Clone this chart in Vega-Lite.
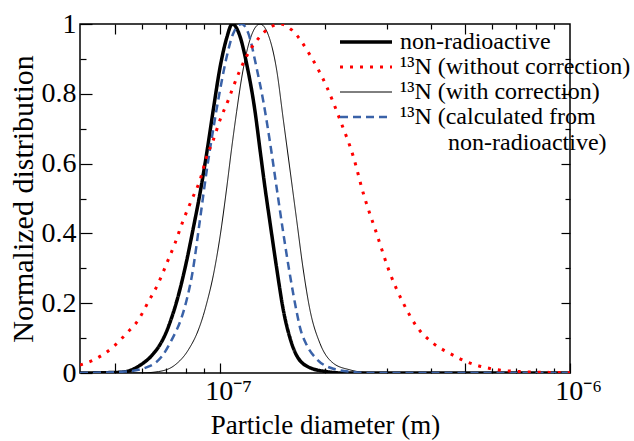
{
  "$schema": "https://vega.github.io/schema/vega-lite/v6.json",
  "autosize": {"type": "none"},
  "width": 490,
  "height": 349,
  "padding": {"left": 80, "top": 24, "right": 64, "bottom": 68},
  "background": "white",
  "config": {
    "font": "Liberation Serif, Times New Roman, Times, serif",
    "view": {"stroke": "black", "strokeWidth": 1.5},
    "axis": {"labelFont": "Liberation Serif, Times New Roman, Times, serif", "titleFont": "Liberation Serif, Times New Roman, Times, serif", "labelColor": "black", "titleColor": "black", "titleFontWeight": "normal", "grid": false, "domain": false, "tickColor": "black", "tickWidth": 1.2, "tickOpacity": 1},
    "legend": {"labelFont": "Liberation Serif, Times New Roman, Times, serif", "labelColor": "black"}
  },
  "data": {"values": [
    {"s": "non-radioactive", "d": 3.981e-8, "v": 0},
    {"s": "non-radioactive", "d": 5.179e-8, "v": 0.002},
    {"s": "non-radioactive", "d": 5.593e-8, "v": 0.009},
    {"s": "non-radioactive", "d": 5.907e-8, "v": 0.022},
    {"s": "non-radioactive", "d": 6.382e-8, "v": 0.05},
    {"s": "non-radioactive", "d": 6.815e-8, "v": 0.09},
    {"s": "non-radioactive", "d": 7.043e-8, "v": 0.12},
    {"s": "non-radioactive", "d": 7.197e-8, "v": 0.145},
    {"s": "non-radioactive", "d": 7.522e-8, "v": 0.205},
    {"s": "non-radioactive", "d": 7.686e-8, "v": 0.24},
    {"s": "non-radioactive", "d": 7.943e-8, "v": 0.30},
    {"s": "non-radioactive", "d": 8.388e-8, "v": 0.415},
    {"s": "non-radioactive", "d": 8.768e-8, "v": 0.515},
    {"s": "non-radioactive", "d": 9.163e-8, "v": 0.63},
    {"s": "non-radioactive", "d": 9.570e-8, "v": 0.755},
    {"s": "non-radioactive", "d": 1.0e-7, "v": 0.875},
    {"s": "non-radioactive", "d": 1.045e-7, "v": 0.96},
    {"s": "non-radioactive", "d": 1.084e-7, "v": 1.0},
    {"s": "non-radioactive", "d": 1.141e-7, "v": 0.964},
    {"s": "non-radioactive", "d": 1.192e-7, "v": 0.885},
    {"s": "non-radioactive", "d": 1.259e-7, "v": 0.75},
    {"s": "non-radioactive", "d": 1.301e-7, "v": 0.64},
    {"s": "non-radioactive", "d": 1.345e-7, "v": 0.53},
    {"s": "non-radioactive", "d": 1.390e-7, "v": 0.43},
    {"s": "non-radioactive", "d": 1.452e-7, "v": 0.30},
    {"s": "non-radioactive", "d": 1.517e-7, "v": 0.18},
    {"s": "non-radioactive", "d": 1.585e-7, "v": 0.10},
    {"s": "non-radioactive", "d": 1.656e-7, "v": 0.05},
    {"s": "non-radioactive", "d": 1.808e-7, "v": 0.015},
    {"s": "non-radioactive", "d": 2.018e-7, "v": 0.004},
    {"s": "non-radioactive", "d": 2.251e-7, "v": 0},
    {"s": "non-radioactive", "d": 1e-6, "v": 0},

    {"s": "¹³N (with correction)", "d": 3.981e-8, "v": 0},
    {"s": "¹³N (with correction)", "d": 5.907e-8, "v": 0},
    {"s": "¹³N (with correction)", "d": 6.665e-8, "v": 0.004},
    {"s": "¹³N (with correction)", "d": 7.438e-8, "v": 0.023},
    {"s": "¹³N (with correction)", "d": 8.117e-8, "v": 0.066},
    {"s": "¹³N (with correction)", "d": 8.670e-8, "v": 0.123},
    {"s": "¹³N (with correction)", "d": 8.960e-8, "v": 0.165},
    {"s": "¹³N (with correction)", "d": 9.163e-8, "v": 0.2},
    {"s": "¹³N (with correction)", "d": 9.570e-8, "v": 0.28},
    {"s": "¹³N (with correction)", "d": 1.0e-7, "v": 0.39},
    {"s": "¹³N (with correction)", "d": 1.045e-7, "v": 0.53},
    {"s": "¹³N (with correction)", "d": 1.080e-7, "v": 0.645},
    {"s": "¹³N (with correction)", "d": 1.116e-7, "v": 0.75},
    {"s": "¹³N (with correction)", "d": 1.153e-7, "v": 0.845},
    {"s": "¹³N (with correction)", "d": 1.192e-7, "v": 0.92},
    {"s": "¹³N (with correction)", "d": 1.245e-7, "v": 0.98},
    {"s": "¹³N (with correction)", "d": 1.301e-7, "v": 1.0},
    {"s": "¹³N (with correction)", "d": 1.390e-7, "v": 0.954},
    {"s": "¹³N (with correction)", "d": 1.452e-7, "v": 0.868},
    {"s": "¹³N (with correction)", "d": 1.517e-7, "v": 0.725},
    {"s": "¹³N (with correction)", "d": 1.585e-7, "v": 0.582},
    {"s": "¹³N (with correction)", "d": 1.656e-7, "v": 0.438},
    {"s": "¹³N (with correction)", "d": 1.730e-7, "v": 0.295},
    {"s": "¹³N (with correction)", "d": 1.808e-7, "v": 0.18},
    {"s": "¹³N (with correction)", "d": 1.930e-7, "v": 0.085},
    {"s": "¹³N (with correction)", "d": 2.107e-7, "v": 0.028},
    {"s": "¹³N (with correction)", "d": 2.352e-7, "v": 0.009},
    {"s": "¹³N (with correction)", "d": 2.625e-7, "v": 0.001},
    {"s": "¹³N (with correction)", "d": 2.863e-7, "v": 0},
    {"s": "¹³N (with correction)", "d": 1e-6, "v": 0},

    {"s": "¹³N (calculated from non-radioactive)", "d": 3.981e-8, "v": 0},
    {"s": "¹³N (calculated from non-radioactive)", "d": 5.353e-8, "v": 0.004},
    {"s": "¹³N (calculated from non-radioactive)", "d": 6.240e-8, "v": 0.018},
    {"s": "¹³N (calculated from non-radioactive)", "d": 6.815e-8, "v": 0.047},
    {"s": "¹³N (calculated from non-radioactive)", "d": 7.278e-8, "v": 0.095},
    {"s": "¹³N (calculated from non-radioactive)", "d": 7.773e-8, "v": 0.16},
    {"s": "¹³N (calculated from non-radioactive)", "d": 8.033e-8, "v": 0.21},
    {"s": "¹³N (calculated from non-radioactive)", "d": 8.318e-8, "v": 0.28},
    {"s": "¹³N (calculated from non-radioactive)", "d": 8.768e-8, "v": 0.44},
    {"s": "¹³N (calculated from non-radioactive)", "d": 9.163e-8, "v": 0.58},
    {"s": "¹³N (calculated from non-radioactive)", "d": 9.570e-8, "v": 0.70},
    {"s": "¹³N (calculated from non-radioactive)", "d": 1.0e-7, "v": 0.81},
    {"s": "¹³N (calculated from non-radioactive)", "d": 1.045e-7, "v": 0.906},
    {"s": "¹³N (calculated from non-radioactive)", "d": 1.091e-7, "v": 0.973},
    {"s": "¹³N (calculated from non-radioactive)", "d": 1.153e-7, "v": 1.0},
    {"s": "¹³N (calculated from non-radioactive)", "d": 1.205e-7, "v": 0.973},
    {"s": "¹³N (calculated from non-radioactive)", "d": 1.273e-7, "v": 0.873},
    {"s": "¹³N (calculated from non-radioactive)", "d": 1.330e-7, "v": 0.778},
    {"s": "¹³N (calculated from non-radioactive)", "d": 1.390e-7, "v": 0.66},
    {"s": "¹³N (calculated from non-radioactive)", "d": 1.452e-7, "v": 0.53},
    {"s": "¹³N (calculated from non-radioactive)", "d": 1.517e-7, "v": 0.40},
    {"s": "¹³N (calculated from non-radioactive)", "d": 1.585e-7, "v": 0.28},
    {"s": "¹³N (calculated from non-radioactive)", "d": 1.656e-7, "v": 0.175},
    {"s": "¹³N (calculated from non-radioactive)", "d": 1.693e-7, "v": 0.13},
    {"s": "¹³N (calculated from non-radioactive)", "d": 1.769e-7, "v": 0.08},
    {"s": "¹³N (calculated from non-radioactive)", "d": 1.889e-7, "v": 0.04},
    {"s": "¹³N (calculated from non-radioactive)", "d": 2.107e-7, "v": 0.012},
    {"s": "¹³N (calculated from non-radioactive)", "d": 2.404e-7, "v": 0.003},
    {"s": "¹³N (calculated from non-radioactive)", "d": 2.683e-7, "v": 0},
    {"s": "¹³N (calculated from non-radioactive)", "d": 1e-6, "v": 0},

    {"s": "¹³N (without correction)", "d": 3.981e-8, "v": 0.023},
    {"s": "¹³N (without correction)", "d": 4.345e-8, "v": 0.037},
    {"s": "¹³N (without correction)", "d": 4.955e-8, "v": 0.075},
    {"s": "¹³N (without correction)", "d": 5.412e-8, "v": 0.114},
    {"s": "¹³N (without correction)", "d": 5.843e-8, "v": 0.152},
    {"s": "¹³N (without correction)", "d": 6.240e-8, "v": 0.204},
    {"s": "¹³N (without correction)", "d": 6.665e-8, "v": 0.257},
    {"s": "¹³N (without correction)", "d": 7.043e-8, "v": 0.314},
    {"s": "¹³N (without correction)", "d": 7.438e-8, "v": 0.372},
    {"s": "¹³N (without correction)", "d": 7.854e-8, "v": 0.438},
    {"s": "¹³N (without correction)", "d": 8.300e-8, "v": 0.496},
    {"s": "¹³N (without correction)", "d": 8.768e-8, "v": 0.553},
    {"s": "¹³N (without correction)", "d": 9.163e-8, "v": 0.62},
    {"s": "¹³N (without correction)", "d": 9.570e-8, "v": 0.668},
    {"s": "¹³N (without correction)", "d": 1.0e-7, "v": 0.725},
    {"s": "¹³N (without correction)", "d": 1.056e-7, "v": 0.782},
    {"s": "¹³N (without correction)", "d": 1.091e-7, "v": 0.82},
    {"s": "¹³N (without correction)", "d": 1.141e-7, "v": 0.868},
    {"s": "¹³N (without correction)", "d": 1.218e-7, "v": 0.925},
    {"s": "¹³N (without correction)", "d": 1.301e-7, "v": 0.964},
    {"s": "¹³N (without correction)", "d": 1.390e-7, "v": 0.99},
    {"s": "¹³N (without correction)", "d": 1.484e-7, "v": 1.0},
    {"s": "¹³N (without correction)", "d": 1.603e-7, "v": 0.983},
    {"s": "¹³N (without correction)", "d": 1.808e-7, "v": 0.911},
    {"s": "¹³N (without correction)", "d": 2.018e-7, "v": 0.82},
    {"s": "¹³N (without correction)", "d": 2.203e-7, "v": 0.725},
    {"s": "¹³N (without correction)", "d": 2.404e-7, "v": 0.62},
    {"s": "¹³N (without correction)", "d": 2.567e-7, "v": 0.515},
    {"s": "¹³N (without correction)", "d": 2.801e-7, "v": 0.40},
    {"s": "¹³N (without correction)", "d": 3.059e-7, "v": 0.286},
    {"s": "¹³N (without correction)", "d": 3.340e-7, "v": 0.20},
    {"s": "¹³N (without correction)", "d": 3.648e-7, "v": 0.133},
    {"s": "¹³N (without correction)", "d": 4.068e-7, "v": 0.085},
    {"s": "¹³N (without correction)", "d": 4.539e-7, "v": 0.056},
    {"s": "¹³N (without correction)", "d": 5.069e-7, "v": 0.032},
    {"s": "¹³N (without correction)", "d": 5.907e-7, "v": 0.013},
    {"s": "¹³N (without correction)", "d": 7.197e-7, "v": 0.004},
    {"s": "¹³N (without correction)", "d": 1e-6, "v": 0.001}
  ]},
  "resolve": {"scale": {"x": "independent", "y": "independent"}, "axis": {"x": "independent", "y": "independent"}},
  "layer": [
    {
      "mark": {"type": "line", "interpolate": "monotone", "clip": true},
      "encoding": {
        "x": {"field": "d", "type": "quantitative", "scale": {"type": "log", "domain": [3.981e-8, 1e-6], "nice": false},
          "axis": {"orient": "bottom", "values": [5e-8, 6e-8, 7e-8, 8e-8, 9e-8, 1e-7, 2e-7, 3e-7, 4e-7, 5e-7, 6e-7, 7e-7, 8e-7, 9e-7, 1e-6],
            "tickSize": {"condition": {"test": "datum.value == 5e-8 || datum.value == 1e-7 || datum.value == 5e-7 || datum.value == 1e-6", "value": -10}, "value": -5},
            "labelExpr": "datum.value == 1e-7 ? '10⁻⁷' : datum.value == 1e-6 ? '10⁻⁶' : ''", "labelFontSize": 28, "labelPadding": 14, "labelOffset": 8, "labelFlush": false, "labelOverlap": false, "title": "Particle diameter (m)", "titleFontSize": 27, "titlePadding": 2}},
        "y": {"field": "v", "type": "quantitative", "scale": {"domain": [0, 1], "nice": false},
          "axis": {"orient": "left", "values": [0, 0.1, 0.2, 0.3, 0.4, 0.5, 0.6, 0.7, 0.8, 0.9, 1],
            "tickSize": {"condition": {"test": "abs(round(datum.value * 5) - datum.value * 5) < 0.001", "value": -12}, "value": -6},
            "labelExpr": "abs(round(datum.value * 5) - datum.value * 5) < 0.001 ? (datum.value < 0.01 ? '0' : datum.value > 0.99 ? '1' : format(datum.value, '.1f')) : ''", "labelFontSize": 28, "labelPadding": 16, "labelFlush": false, "labelOverlap": false, "title": "Normalized distribution", "titleFontSize": 30, "titlePadding": 3}},
        "color": {"field": "s", "type": "nominal",
          "scale": {"domain": ["non-radioactive", "¹³N (without correction)", "¹³N (with correction)", "¹³N (calculated from non-radioactive)"], "range": ["#000000", "#ff0000", "#000000", "#3a62a8"]},
          "legend": {"orient": "none", "legendX": 274, "legendY": 6, "title": null, "symbolType": "M-2.6,0H2.6", "symbolSize": 400, "symbolFillColor": "transparent", "labelFontSize": 24, "labelOffset": 22, "labelLimit": 400, "rowPadding": 1, "padding": 0,
            "labelExpr": "datum.label == '¹³N (calculated from non-radioactive)' ? ['¹³N (calculated from', '\u200b\u00a0\u00a0\u00a0\u00a0\u00a0\u00a0\u00a0\u00a0non-radioactive)'] : datum.label"}},
        "strokeDash": {"field": "s", "type": "nominal",
          "scale": {"domain": ["non-radioactive", "¹³N (without correction)", "¹³N (with correction)", "¹³N (calculated from non-radioactive)"], "range": [[1, 0], [3, 7], [1, 0], [8, 5]]}},
        "strokeWidth": {"field": "s", "type": "nominal",
          "scale": {"type": "ordinal", "domain": ["non-radioactive", "¹³N (without correction)", "¹³N (with correction)", "¹³N (calculated from non-radioactive)"], "range": [3.5, 3, 1, 2.5]}}
      }
    },
    {
      "mark": {"type": "line", "opacity": 0},
      "encoding": {
        "x": {"field": "d", "type": "quantitative", "scale": {"type": "log", "domain": [3.981e-8, 1e-6], "nice": false},
          "axis": {"orient": "top", "values": [5e-8, 6e-8, 7e-8, 8e-8, 9e-8, 1e-7, 2e-7, 3e-7, 4e-7, 5e-7, 6e-7, 7e-7, 8e-7, 9e-7],
            "tickSize": {"condition": {"test": "datum.value == 5e-8 || datum.value == 1e-7 || datum.value == 5e-7", "value": -10}, "value": -5},
            "labels": false, "title": null}},
        "y": {"field": "v", "type": "quantitative", "scale": {"domain": [0, 1], "nice": false},
          "axis": {"orient": "right", "values": [0.1, 0.2, 0.3, 0.4, 0.5, 0.6, 0.7, 0.8, 0.9],
            "tickSize": {"condition": {"test": "abs(round(datum.value * 5) - datum.value * 5) < 0.001", "value": -9}, "value": -5},
            "labels": false, "title": null}}
      }
    }
  ]
}
